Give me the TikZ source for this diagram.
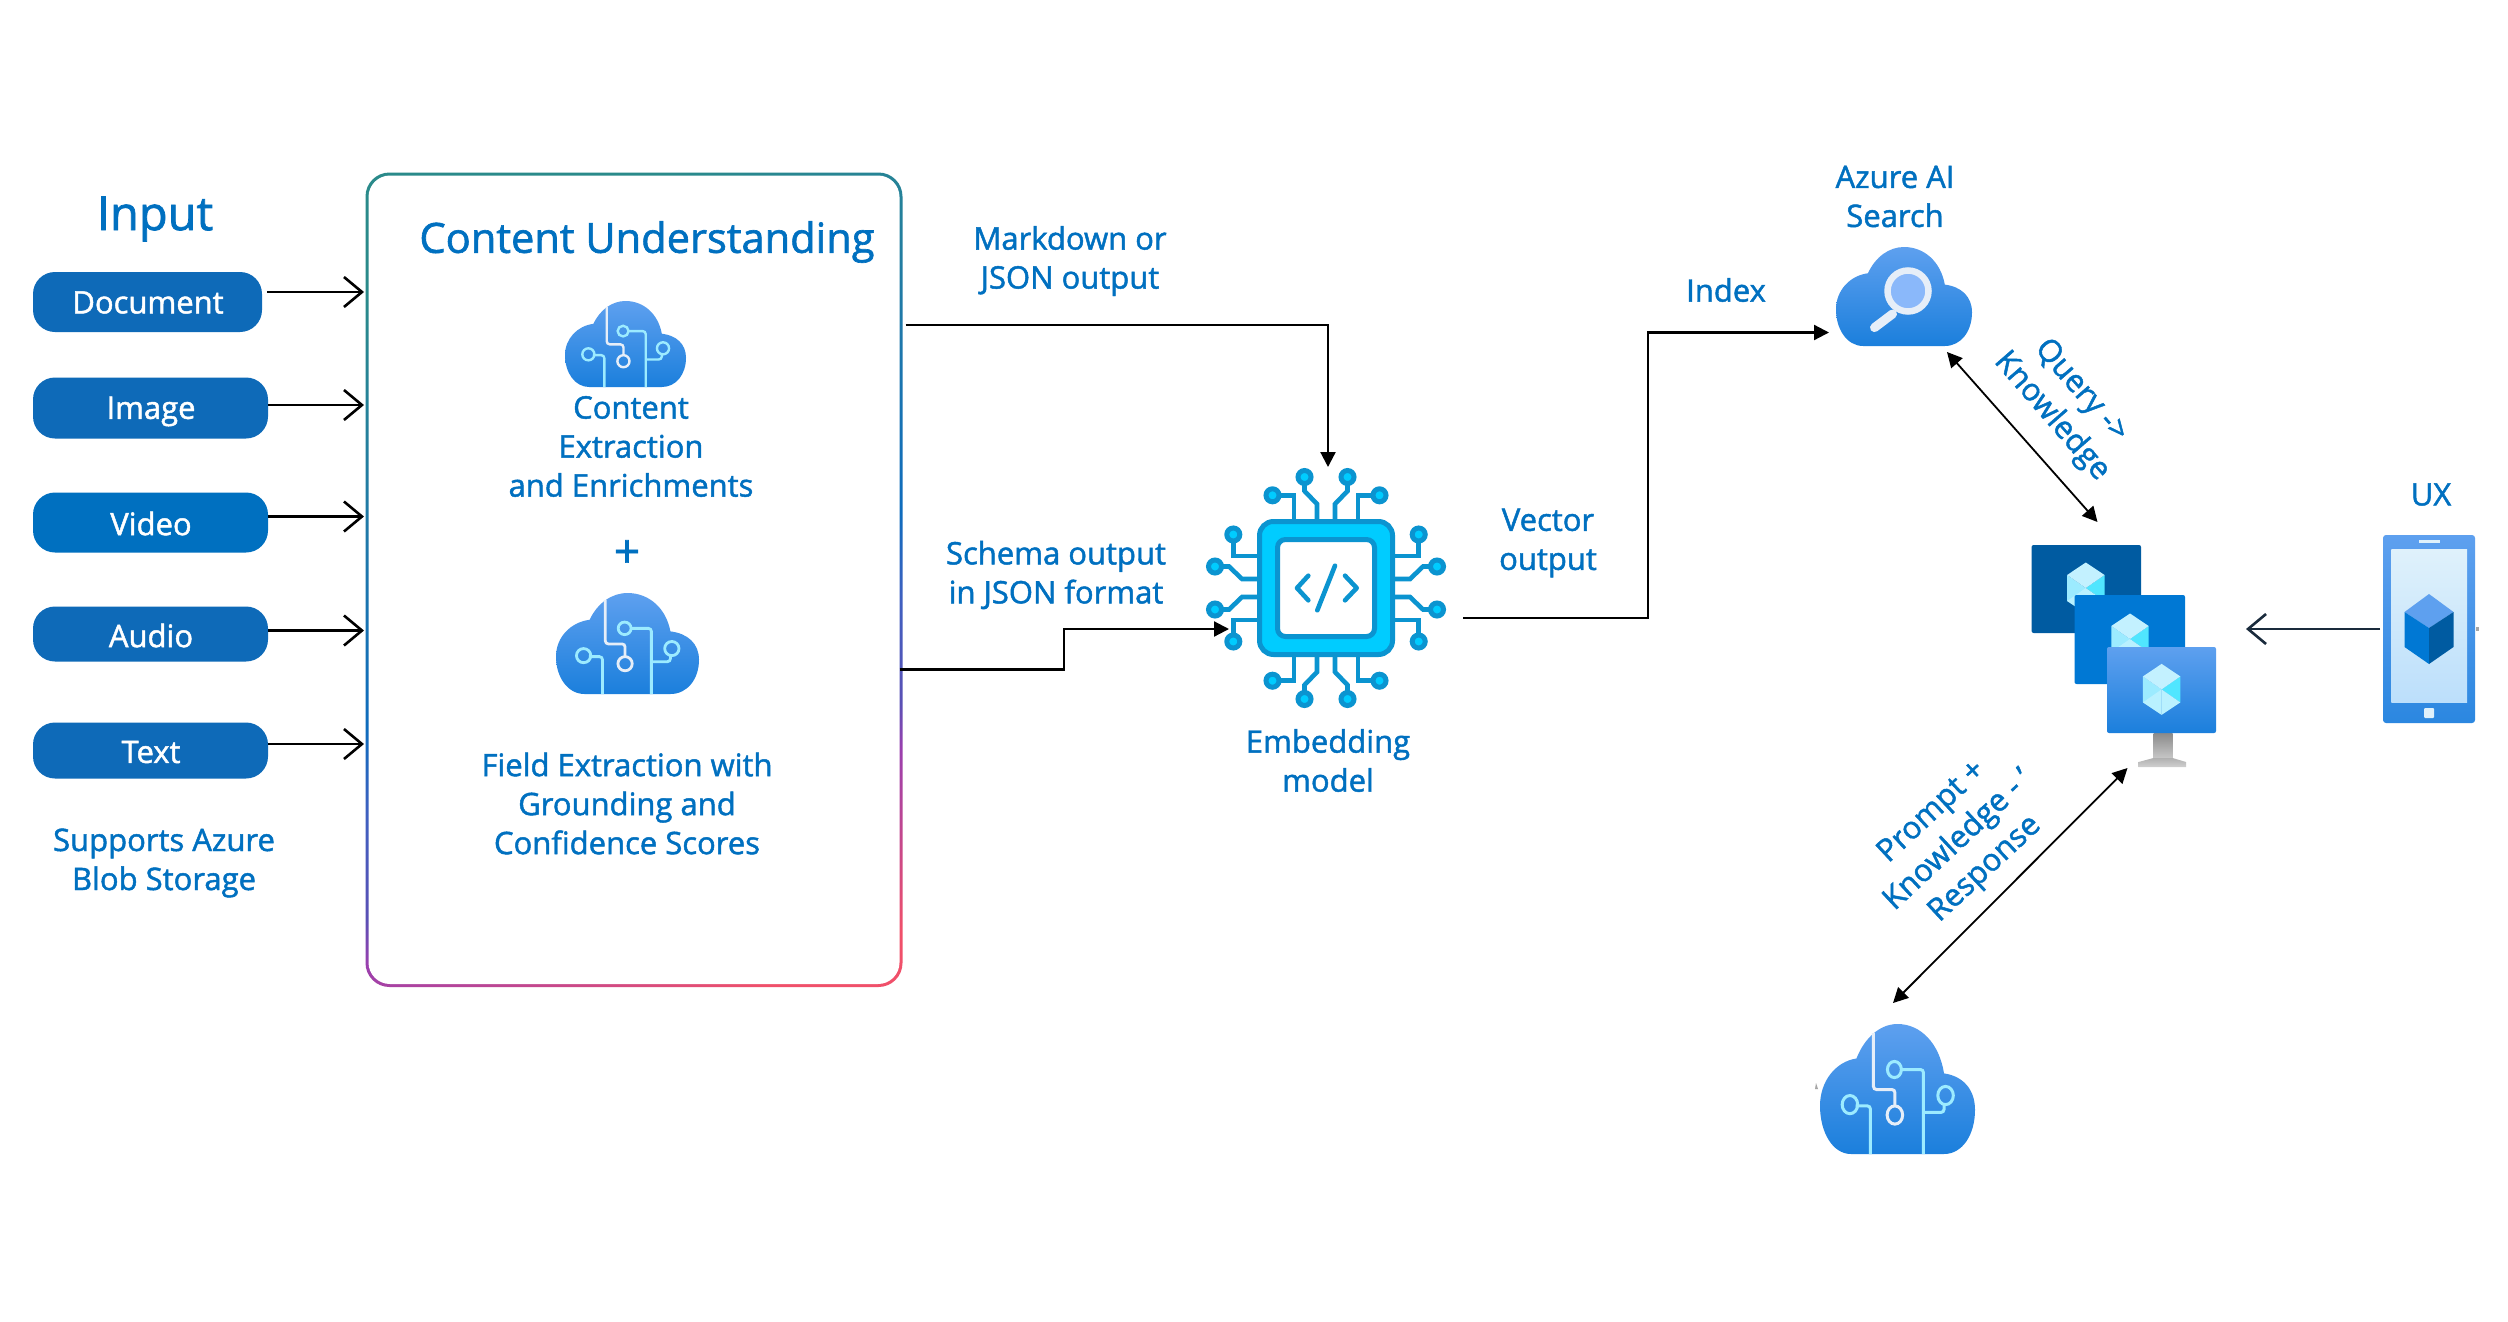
\documentclass[tikz,border=0pt]{standalone}
\usepackage{fontspec}
\setmainfont{Open Sans}[FakeBold=1.5]
\usetikzlibrary{arrows.meta,calc}
\definecolor{azblue}{HTML}{0070C0}
\definecolor{pillA}{HTML}{0E6AB8}
\definecolor{pillB}{HTML}{0070C0}
\definecolor{cloudtop}{HTML}{5EA0EF}
\definecolor{cloudbot}{HTML}{1B7FDC}
\definecolor{cyanline}{HTML}{9CEBFF}
\definecolor{whiteline}{HTML}{E6EEF8}
\definecolor{chipfill}{HTML}{00CCFF}
\definecolor{chipline}{HTML}{0B94D0}
\definecolor{HexC}{HTML}{50E6FF}
\definecolor{HexT}{HTML}{C3F1FF}
\definecolor{HexL}{HTML}{9CEBFF}
\definecolor{HexSearch}{HTML}{8AB8FA}
\definecolor{HexMonA}{HTML}{005BA1}
\definecolor{HexMonB}{HTML}{0078D4}
\definecolor{MonNeckA}{HTML}{8A8A8A}
\definecolor{MonNeckB}{HTML}{D0D0D0}
\definecolor{MonNeckC}{HTML}{B0B0B0}
\definecolor{PhoneBot}{HTML}{2B87E0}
\definecolor{PhoneA}{HTML}{DFF1FB}
\definecolor{PhoneB}{HTML}{BCDFFB}
\definecolor{MonDark}{HTML}{1A2B3C}
\definecolor{GA}{HTML}{2A8A8A}
\definecolor{GB}{HTML}{1F78AA}
\definecolor{GC}{HTML}{0F6CBD}
\definecolor{GD}{HTML}{3F60C0}
\definecolor{GE}{HTML}{5A50B5}
\definecolor{GF}{HTML}{9A3FAE}
\definecolor{GG}{HTML}{F0506A}
\pgfdeclareverticalshading{cuborder}{100bp}{
 color(0bp)=(GA);
 color(25bp)=(GA);
 color(41bp)=(GB);
 color(52.6bp)=(GC);
 color(58bp)=(GD);
 color(64.6bp)=(GE);
 color(67.5bp)=(GF);
 color(79bp)=(GG);
 color(100bp)=(GG)}
\tikzset{
 lbl/.style={text=azblue,font=\fontsize{31}{39}\selectfont,align=center,inner sep=0pt},
 pill/.style={rectangle,rounded corners=22pt,inner sep=0pt,text=white,minimum width=235pt,font=\fontsize{31}{39}\selectfont},
 holder/.style={inner sep=0pt,outer sep=0pt,draw=none,rectangle},
 inarrow/.style={black,line width=2.6pt,-{Straight Barb[length=18pt,width=30pt,line width=2.6pt]}},
 flow/.style={black,line width=2.2pt,-{Triangle[length=15pt,width=15pt]}},
 twoway/.style={black,line width=1.8pt,{Triangle[length=15pt,width=15pt]}-{Triangle[length=15pt,width=15pt]}},
 chiptrace/.style={chipline,line width=4.6pt,line join=miter},
 chipdot/.style={draw=chipline,fill=chipfill,line width=5pt},
}
% x0 y0 w h
\newcommand{\cloudbody}{(.2,1) .. controls (.08,1) and (0,.83) .. (0,.63)
  .. controls (0,.44) and (.1,.29) .. (.235,.265)
  .. controls (.29,.1) and (.39,0) .. (.5,0)
  .. controls (.65,0) and (.77,.15) .. (.80,.38)
  .. controls (.92,.40) and (1,.5) .. (1,.66)
  .. controls (1,.85) and (.92,1) .. (.8,1) -- cycle}
\newcommand{\circuitcloud}[5]{%
 \begin{scope}[shift={(#1,#2)},x=#3pt,y=-#4pt]
  \shade[top color=cloudtop,bottom color=cloudbot] \cloudbody;
  \draw[whiteline,line width=#5pt,rounded corners=3pt] (.345,.07) -- (.345,.504) -- (.483,.504) -- (.483,.63);
  \draw[whiteline,line width=#5pt] (.483,.70) ellipse [x radius=.05,y radius=.07];
  \draw[cyanline,line width=#5pt,rounded corners=3pt] (.525,.35) -- (.667,.35) -- (.667,1);
  \draw[cyanline,line width=#5pt] (.48,.35) ellipse [x radius=.045,y radius=.062];
  \draw[cyanline,line width=#5pt,rounded corners=3pt] (.667,.68) -- (.80,.68) -- (.80,.62);
  \draw[cyanline,line width=#5pt] (.81,.55) ellipse [x radius=.05,y radius=.07];
  \draw[cyanline,line width=#5pt,rounded corners=3pt] (.23,.63) -- (.325,.63) -- (.325,1);
  \draw[cyanline,line width=#5pt] (.193,.62) ellipse [x radius=.05,y radius=.07];
 \end{scope}}
\newcommand{\hexcube}[2]{%
 \begin{scope}[shift={(#1,#2)}]
  \fill[cyanline] (-18.7,-13) -- (0,0) -- (0,25.5) -- (-18.7,13) -- cycle;
  \fill[white,opacity=.3] (0,0) -- (0,25.5) -- (-18.7,13) -- cycle;
  \fill[HexC] (18.7,-13) -- (18.7,13) -- (0,0) -- cycle;
  \fill[cyanline!70!white] (18.7,13) -- (0,25.5) -- (0,0) -- cycle;
  \fill[HexT] (0,-25.5) -- (18.7,-13) -- (0,0) -- (-18.7,-13) -- cycle;
 \end{scope}}
\begin{document}
\begin{tikzpicture}[x=1pt,y=-1pt]
\useasboundingbox (0,0) rectangle (2508,1322);
\fill[white] (0,0) rectangle (2508,1322);

% ---------- input column
\node[lbl,font=\fontsize{47}{50}\selectfont] (inputT) at (155,219) {Input};
\node[pill,fill=pillA,minimum width=229pt,minimum height=60pt] (doc) at (147.5,302) {};
\node[pill,fill=pillA,minimum height=61pt] (img) at (150.5,408) {};
\node[pill,fill=pillB,minimum height=60pt] (vid) at (150.5,522.5) {};
\node[pill,fill=pillA,minimum height=55pt] (aud) at (150.5,634) {};
\node[pill,fill=pillA,minimum height=56pt] (txt) at (150.5,750.5) {};
\node[lbl,text=white] (docT) at (148,302.5) {Document};
\node[lbl,text=white] (imgT) at (151,411.5) {Image};
\node[lbl,text=white] (vidT) at (151,523.5) {Video};
\node[lbl,text=white] (audT) at (151,635.5) {Audio};
\node[lbl,text=white] (txtT) at (151,752) {Text};
\node[lbl] (blob) at (164,863) {Supports Azure\\Blob Storage};

% ---------- content understanding box
\shade[shading=cuborder,shading angle=202,rounded corners=24pt] (365.5,172.5) rectangle (902.5,987);
\fill[white,rounded corners=21.5pt] (368.5,175.5) rectangle (899.5,984);
\node[holder,minimum width=537pt,minimum height=814.5pt] (cu) at (634,579.75) {};
\node[lbl,font=\fontsize{41.6}{50}\selectfont] (cuT) at (647,242) {Content Understanding};
\circuitcloud{565}{301}{121}{86}{2.4}
\node[holder,minimum width=121pt,minimum height=86pt] (cl1) at (625.5,344) {};
\node[lbl] (cl1T) at (631,446.5) {Content\\Extraction\\and Enrichments};
\node[lbl,font=\fontsize{46}{48}\selectfont] (plus) at (627,554) {+};
\circuitcloud{556}{593}{143}{101}{2.8}
\node[holder,minimum width=143pt,minimum height=101pt] (cl2) at (627.5,643.5) {};
\node[lbl] (cl2T) at (627,803.5) {Field Extraction with\\Grounding and\\Confidence Scores};

% input arrows
\draw[inarrow] ([xshift=5pt]doc.east |- 0,292) -- ([xshift=-1.5pt]cu.west |- 0,292);
\draw[inarrow] (img.east |- 0,405) -- ([xshift=-1.5pt]cu.west |- 0,405);
\draw[inarrow] (vid.east |- 0,516.5) -- ([xshift=-1.5pt]cu.west |- 0,516.5);
\draw[inarrow] (aud.east |- 0,630.5) -- ([xshift=-1.5pt]cu.west |- 0,630.5);
\draw[inarrow] (txt.east |- 0,744) -- ([xshift=-1.5pt]cu.west |- 0,744);

% ---------- chip
\node[holder,minimum size=242pt] (chip) at (1326,588) {};
\begin{scope}[shift={(1326,588)}]
 \foreach \r in {0,90,180,270}{
  \begin{scope}[rotate=\r]
   \foreach \s in {-1,1}{
    \draw[chiptrace] (\s*32,-68) -- (\s*32,-92.7) -- (\s*46,-92.7);
    \draw[chiptrace] (\s*9,-68) -- (\s*9,-84) -- (\s*21.5,-97) -- (\s*21.5,-105);
    \draw[chipdot] (\s*53.5,-92.7) circle (6.5);
    \draw[chipdot] (\s*21.5,-111) circle (6.5);
   }
  \end{scope}}
 \draw[chipline,fill=chipfill,line width=5pt,rounded corners=14pt] (-66.5,-66.5) rectangle (66.5,66.5);
 \draw[chipline,fill=white,line width=5pt,rounded corners=8pt] (-48.5,-48.5) rectangle (48.5,48.5);
 \draw[chipline,line width=4.6pt,line cap=round,line join=round] (-17.7,-12.3) -- (-29,0) -- (-17.7,12.3);
 \draw[chipline,line width=4.6pt,line cap=round,line join=round] (19,-12.3) -- (30.7,0) -- (19,12.3);
 \draw[chipline,line width=4.6pt,line cap=round] (9,-22.3) -- (-8.7,22.3);
\end{scope}
\node[lbl] (chipT) at (1328,760.5) {Embedding\\model};

% ---------- search cloud
\begin{scope}[shift={(1836,247)},x=136pt,y=-99pt]
 \shade[top color=cloudtop,bottom color=cloudbot] \cloudbody;
\end{scope}
\node[holder,minimum width=136pt,minimum height=99pt] (search) at (1904,296.5) {};
\draw[whiteline,line width=9pt,line cap=round] (1892.5,314) -- (1874.5,327.6);
\draw[whiteline,fill=HexSearch,line width=6.5pt] (1908,291) circle (20.5);
\node[lbl] (searchT) at (1895,196.5) {Azure AI\\Search};

% ---------- monitors
\fill[HexMonA,rounded corners=2pt] (2031.6,545) rectangle (2141,633);
\hexcube{2085.8}{588}
\fill[HexMonB,rounded corners=2pt] (2074.5,595) rectangle (2185,684);
\hexcube{2130}{639}
\shade[top color=MonNeckA,bottom color=MonNeckB] (2153.5,733) rectangle (2172.5,762);
\shade[top color=MonNeckC,bottom color=MonNeckB] (2138.6,762) -- (2153.5,758) -- (2172.5,758) -- (2186,762) -- (2186,767) -- (2138.6,767) -- cycle;
\shade[top color=cloudtop,bottom color=cloudbot,rounded corners=2pt] (2107,647) rectangle (2216,733);
\hexcube{2161.6}{689.4}
\node[holder,minimum width=185pt,minimum height=222pt] (mons) at (2123.5,656) {};

% ---------- phone
\shade[top color=cloudtop,bottom color=PhoneBot,rounded corners=3pt] (2383,535) rectangle (2475,723);
\shade[top color=PhoneA,bottom color=PhoneB] (2391.4,549.6) rectangle (2467,702);
\fill[PhoneA] (2418.5,540) rectangle (2440,543.4);
\fill[PhoneA,rounded corners=1pt] (2424,708) rectangle (2434,718);
\fill[cloudtop] (2429,594) -- (2453.5,612) -- (2429,628) -- (2404.5,612) -- cycle;
\fill[HexMonB] (2404.5,612) -- (2429,628) -- (2429,664) -- (2404.5,647) -- cycle;
\fill[HexMonA] (2453.5,612) -- (2429,628) -- (2429,664) -- (2453.5,647) -- cycle;
\fill[gray!70] (2475.5,627) rectangle (2478.5,630.5);
\node[holder,minimum width=92pt,minimum height=188pt] (phone) at (2429,629) {};
\node[lbl] (phoneT) at (2431,494.5) {UX};

% ---------- LLM cloud
\circuitcloud{1820}{1024}{155}{130}{3}
\node[holder,minimum width=155pt,minimum height=130pt] (llm) at (1897.5,1089) {};
\fill[gray!70] (1815,1089) -- (1816,1083) -- (1818,1089) -- cycle;

% ---------- connectors
\node[lbl] (mdT) at (1070,261) {Markdown or\\JSON output};
\node[lbl] (schemaT) at (1056,575) {Schema output\\in JSON format};
\node[lbl] (vecT) at (1548,543) {Vector\\output};
\node[lbl] (idxT) at (1726,290) {Index};
\node[lbl,rotate=-49] (qT) at (2066,404) {Query ->\\Knowledge};
\node[lbl,rotate=43] (pT) at (1959,841) {Prompt +\\Knowledge - '\\Response};

\coordinate (schemaBend) at (1064,650);
\coordinate (vecBend) at (1648,500);
\draw[flow] ([xshift=3pt]cu.east |- 0,325) -| ([xshift=2pt]chip.north);
\draw[flow] ([xshift=-3pt]cu.east |- 0,669.5) -| (schemaBend) |- ([shift={(24,41)}]chip.west);
\draw[flow] ([shift={(16,30)}]chip.east) -| (vecBend) |- ([shift={(-7,36)}]search.west);
\draw[twoway] ([shift={(-25,6)}]search.south east) -- ([shift={(-26,-23)}]mons.north);
\draw[twoway] ([shift={(4,1)}]mons.south) -- ([shift={(-4.5,-21)}]llm.north);
\draw[inarrow,line width=2.4pt,draw=MonDark] ([xshift=-3pt]phone.west) -- ([xshift=30pt]mons.east |- phone.west);
\end{tikzpicture}
\end{document}
